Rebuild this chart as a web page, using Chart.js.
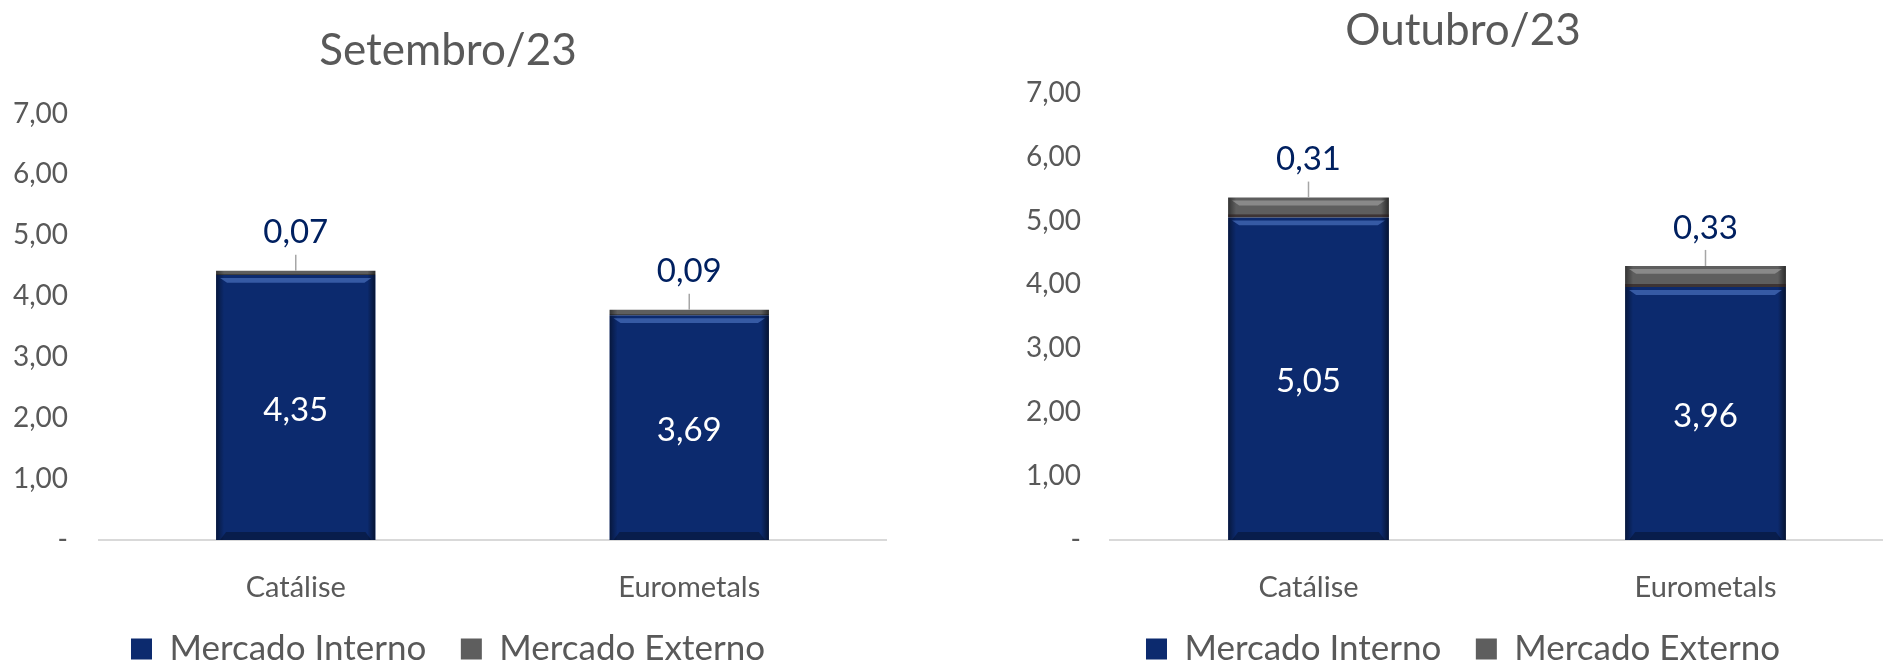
<!DOCTYPE html>
<html>
<head>
<meta charset="utf-8">
<script src="https://cdn.jsdelivr.net/npm/chart.js@4.4.0/dist/chart.umd.min.js"></script>
<style>
  html, body { margin: 0; padding: 0; background: #fff; }
  body { width: 1883px; height: 665px; overflow: hidden; position: relative; }
  .box { position: absolute; top: 0; height: 665px; }
</style>
</head>
<body>
<div class="box" style="left:0px;width:916px;"><canvas id="chartSet"></canvas></div>
<div class="box" style="left:942px;width:962px;"><canvas id="chartOut"></canvas></div>
<script>
var categories = ['Catálise', 'Eurometals'];
var seriesNames = ['Mercado Interno', 'Mercado Externo'];
var titles = ['Setembro/23', 'Outubro/23'];

// setembro
var setInterno = [4.35, 3.69];
var setExterno = [0.07, 0.09];
// outubro
var outInterno = [5.05, 3.96];
var outExterno = [0.31, 0.33];

var yMax = 7;
var yStep = 1;

var navy = '#0c2a6e';
var grey = '#5e5e5e';
var textGrey = '#595959';

function fmt(v) {
  if (v === 0) return '-';
  return v.toFixed(2).replace('.', ',');
}

// bevel look on the bars
var bevelPlugin = {
  id: 'bevel',
  afterDatasetsDraw: function (chart) {
    var ctx = chart.ctx;
    chart.data.datasets.forEach(function (ds, di) {
      var meta = chart.getDatasetMeta(di);
      meta.data.forEach(function (el) {
        var l = el.x - el.width / 2, r = el.x + el.width / 2;
        var t = Math.min(el.y, el.base), b = Math.max(el.y, el.base);
        var h = b - t;
        ctx.save();
        ctx.beginPath();
        ctx.rect(l, t, r - l, h);
        ctx.clip();
        var e = Math.min(7, h / 2);
        var g = ctx.createLinearGradient(l, 0, l + 8, 0);
        g.addColorStop(0, 'rgba(0,0,0,0.45)');
        g.addColorStop(1, 'rgba(0,0,0,0)');
        ctx.fillStyle = g;
        ctx.fillRect(l, t, 8, h);
        g = ctx.createLinearGradient(r, 0, r - 8, 0);
        g.addColorStop(0, 'rgba(0,0,0,0.55)');
        g.addColorStop(1, 'rgba(0,0,0,0)');
        ctx.fillStyle = g;
        ctx.fillRect(r - 8, t, 8, h);
        if (h > 6) {
          ctx.fillStyle = di === 0 ? 'rgba(90,130,210,0.55)' : 'rgba(190,190,190,0.45)';
          ctx.beginPath();
          ctx.moveTo(l + 4, t + 3);
          ctx.lineTo(r - 4, t + 3);
          ctx.lineTo(r - 4 - e, t + 3 + e * 0.7);
          ctx.lineTo(l + 4 + e, t + 3 + e * 0.7);
          ctx.closePath();
          ctx.fill();
          if (di === 0) {
            ctx.fillStyle = 'rgba(0,0,0,0.3)';
            ctx.beginPath();
            ctx.moveTo(l + 4, b);
            ctx.lineTo(r - 4, b);
            ctx.lineTo(r - 10, b - 8);
            ctx.lineTo(l + 10, b - 8);
            ctx.closePath();
            ctx.fill();
          } else {
            ctx.fillStyle = 'rgba(40,25,25,0.6)';
            ctx.fillRect(l, b - 3, r - l, 3);
          }
        } else {
          ctx.fillStyle = 'rgba(0,0,0,0.35)';
          ctx.fillRect(l, b - 1, r - l, 1);
        }
        ctx.restore();
      });
    });
  }
};

// value labels: inside for interno, above with leader for externo
var labelPlugin = {
  id: 'valueLabels',
  afterDatasetsDraw: function (chart) {
    var ctx = chart.ctx;
    ctx.save();
    ctx.font = '33px Lato';
    ctx.textAlign = 'center';
    ctx.textBaseline = 'middle';
    chart.data.datasets.forEach(function (ds, di) {
      var meta = chart.getDatasetMeta(di);
      meta.data.forEach(function (el, i) {
        var v = ds.data[i];
        if (di === 0) {
          ctx.fillStyle = '#ffffff';
          ctx.fillText(fmt(v), el.x, (el.y + el.base) / 2 + 3);
        } else {
          ctx.strokeStyle = '#a6a6a6';
          ctx.lineWidth = 1.5;
          ctx.beginPath();
          ctx.moveTo(el.x, el.y);
          ctx.lineTo(el.x, el.y - 16);
          ctx.stroke();
          ctx.fillStyle = '#002060';
          ctx.fillText(fmt(v), el.x, el.y - 38);
        }
      });
    });
    ctx.restore();
  }
};

function makeChart(id, title, interno, externo, padLeft, yWidth, tickPad, padRight, titleTop, titleBottom) {
  return new Chart(document.getElementById(id), {
    type: 'bar',
    data: {
      labels: categories,
      datasets: [{
        label: seriesNames[0],
        data: interno,
        backgroundColor: navy,
        borderWidth: 0,
        categoryPercentage: 1,
        barPercentage: 0.405
      }, {
        label: seriesNames[1],
        data: externo,
        backgroundColor: grey,
        borderWidth: 0,
        categoryPercentage: 1,
        barPercentage: 0.405
      }]
    },
    options: {
      responsive: true,
      maintainAspectRatio: false,
      animation: false,
      layout: { padding: { left: padLeft, right: padRight, top: 0, bottom: -11.5 } },
      scales: {
        x: {
          stacked: true,
          grid: { display: false, drawTicks: false },
          border: { display: true, color: '#d9d9d9', width: 2 },
          ticks: { color: textGrey, font: { family: 'Lato', size: 29 }, padding: 30 },
          afterFit: function (scale) { scale.height = 57; }
        },
        y: {
          stacked: true,
          min: 0,
          max: yMax,
          grid: { display: false, drawTicks: false },
          border: { display: false },
          ticks: {
            stepSize: yStep,
            color: textGrey,
            font: { family: 'Lato', size: 28 },
            padding: tickPad,
            callback: function (v) { return fmt(v); }
          },
          afterFit: function (scale) { scale.width = yWidth; }
        }
      },
      plugins: {
        title: {
          display: true,
          text: title,
          color: textGrey,
          font: { family: 'Lato', size: 44, weight: 'normal' },
          padding: { top: titleTop, bottom: titleBottom }
        },
        legend: {
          position: 'bottom',
          labels: {
            color: textGrey,
            font: { family: 'Lato', size: 35 },
            boxWidth: 21,
            boxHeight: 21,
            padding: 34.5
          }
        },
        tooltip: { enabled: false }
      }
    },
    plugins: [bevelPlugin, labelPlugin]
  });
}

makeChart('chartSet', titles[0], setInterno, setExterno, 10, 89, 31, 30, 24.6, 36.1);
makeChart('chartOut', titles[1], outInterno, outExterno, 80, 88, 29, 0, 4, 36);
</script>
</body>
</html>
